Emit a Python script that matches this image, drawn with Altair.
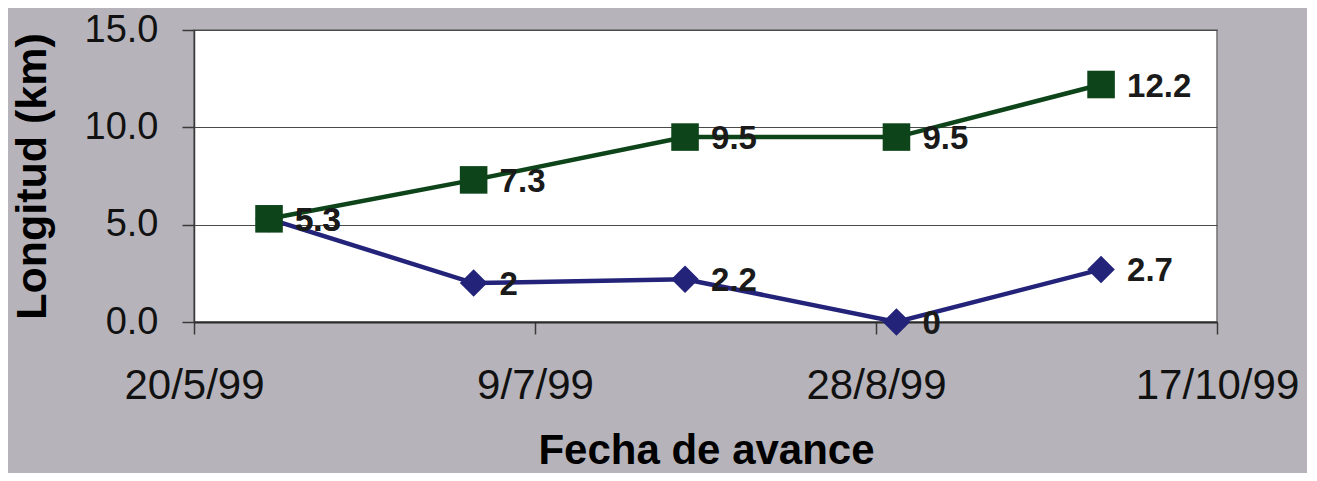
import altair as alt
import pandas as pd

dates = ["1999-05-31", "1999-06-30", "1999-07-31", "1999-08-31", "1999-09-30"]
serie_verde = [5.3, 7.3, 9.5, 9.5, 12.2]
serie_azul = [5.3, 2.0, 2.2, 0.0, 2.7]
series = ["Azul", "Verde"]
colors = ["#23237a", "#0d4419"]
shapes = ["diamond", "square"]
x_ticks = [(1999, 5, 20), (1999, 7, 9), (1999, 8, 28), (1999, 10, 17)]
y_ticks = [0, 5, 10, 15]

rows = []
for name, vals in (("Azul", serie_azul), ("Verde", serie_verde)):
    for d, v in zip(dates, vals):
        rows.append({"fecha": d, "valor": v, "serie": name})
df = pd.DataFrame(rows)

FONT = "Liberation Sans"

x_enc = alt.X(
    "fecha:T",
    scale=alt.Scale(
        type="utc",
        domain=[alt.DateTime(year=1999, month=5, date=20, utc=True),
                alt.DateTime(year=1999, month=10, date=17, utc=True)],
    ),
    axis=alt.Axis(
        values=[alt.DateTime(year=y, month=m, date=d, utc=True) for y, m, d in x_ticks],
        format="%-d/%-m/%y",
        title="Fecha de avance",
        grid=False,
        tickSize=12,
        tickColor="#3a3a3a",
        tickWidth=1.5,
        domainColor="#2a2a2a",
        domainWidth=2,
        labelFont=FONT,
        labelFontSize=42,
        labelColor="#111111",
        labelBaseline="alphabetic",
        labelPadding=64,
        labelFlush=False,
        labelOverlap=False,
        titleFont=FONT,
        titleFontSize=42,
        titleFontWeight="bold",
        titleColor="#000000",
        titleX=512,
        titleY=141,
        titleAlign="center",
        titleBaseline="alphabetic",
    ),
)

y_enc = alt.Y(
    "valor:Q",
    scale=alt.Scale(domain=[0, 15], nice=False),
    axis=alt.Axis(
        values=y_ticks,
        format=".1f",
        title="Longitud (km)",
        grid=True,
        gridColor="#4a4a4a",
        gridWidth=1.2,
        tickSize=12,
        tickColor="#3a3a3a",
        tickWidth=1.5,
        domainColor="#3a3a3a",
        domainWidth=1.5,
        labelFont=FONT,
        labelFontSize=38,
        labelColor="#111111",
        labelPadding=24,
        labelBaseline="middle",
        labelFlush=False,
        titleFont=FONT,
        titleFontSize=43,
        titleFontWeight="bold",
        titleColor="#000000",
        titleAngle=270,
        titleX=-149,
        titleY=146,
        titleAlign="center",
        titleBaseline="alphabetic",
    ),
)

color_enc = alt.Color("serie:N", scale=alt.Scale(domain=series, range=colors), legend=None)
shape_enc = alt.Shape("serie:N", scale=alt.Scale(domain=series, range=shapes), legend=None)

base = alt.Chart(df)

lines = base.mark_line(strokeWidth=4.5).encode(
    x=x_enc, y=y_enc, color=color_enc, detail="serie:N"
)
points = base.mark_point(filled=True, opacity=1, size=760).encode(
    x="fecha:T", y="valor:Q", color=color_enc, shape=shape_enc
)
labels = base.mark_text(
    align="left", baseline="middle", dx=26, dy=2,
    font=FONT, fontSize=33, fontWeight="bold", color="#1a1a1a"
).encode(
    x="fecha:T", y="valor:Q", text=alt.Text("valor:Q", format="~g")
)

chart = alt.layer(lines, points, labels).properties(
    width=1023,
    height=292,
    autosize="none",
    padding={"left": 186, "top": 22, "right": 90, "bottom": 151},
    background="#b6b4ba",
).configure_view(
    fill="#ffffff", stroke="#707070", strokeWidth=1.5
)

chart.save("out.html", embed_options={"renderer": "svg", "actions": False})
